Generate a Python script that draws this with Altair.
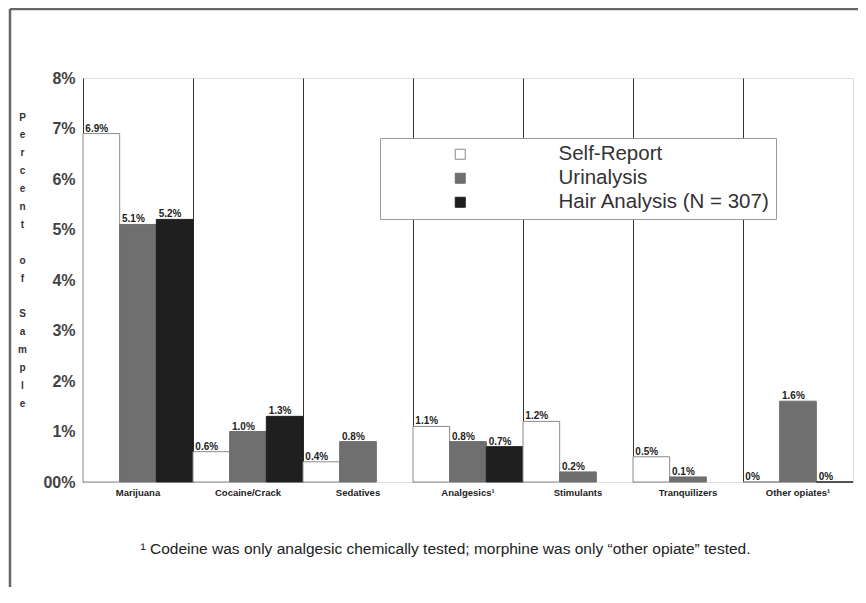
import altair as alt
import pandas as pd

categories = ["Marijuana", "Cocaine/Crack", "Sedatives", "Analgesics¹",
              "Stimulants", "Tranquilizers", "Other opiates¹"]
series = ["Self-Report", "Urinalysis", "Hair Analysis (N = 307)"]
self_report = [6.9, 0.6, 0.4, 1.1, 1.2, 0.5, 0.0]
urinalysis = [5.1, 1.0, 0.8, 0.8, 0.2, 0.1, 1.6]
hair = [5.2, 1.3, None, 0.7, None, None, 0.0]
y_ticks = [0, 1, 2, 3, 4, 5, 6, 7, 8]
y_title = list("Percent") + ["\u2800"] + list("of") + ["\u2800"] + list("Sample")
footnote = "¹ Codeine was only analgesic chemically tested; morphine was only “other opiate” tested."

rows = []
for i, c in enumerate(categories):
    for s, vals in zip(series, [self_report, urinalysis, hair]):
        rows.append({"category": c, "series": s, "value": vals[i]})
df = pd.DataFrame(rows)

fills = ["#ffffff", "#6f6f6f", "#1f1f1f"]
strokes = ["#8a8a8a", "#6f6f6f", "#1f1f1f"]

FONT = "Liberation Sans"

x_enc = alt.X("category:N", sort=categories,
              scale=alt.Scale(paddingInner=0, paddingOuter=0),
              axis=alt.Axis(title=footnote, labelAngle=0, ticks=False, domain=False,
                            grid=True, bandPosition=0, gridColor="#333333", gridWidth=1,
                            labelFont=FONT, labelFontSize=9.5, labelFontWeight="bold",
                            labelColor="#222222", labelPadding=5,
                            titleFont=FONT, titleFontSize=15.5, titleFontWeight="normal",
                            titleColor="#222222", titleX=362, titleY=66,
                            titleAlign="center", titleBaseline="middle"))

y_enc = alt.Y("value:Q", scale=alt.Scale(domain=[0, 8], nice=False),
              axis=alt.Axis(values=y_ticks, title=y_title, titleAngle=0,
                            titleX=-61, titleY=34, titleAlign="center",
                            titleBaseline="top", titleLineHeight=17.9,
                            titleFont=FONT, titleFontSize=10, titleFontWeight="bold",
                            titleColor="#333333",
                            labelExpr="datum.value == 0 ? '00%' : datum.value + '%'",
                            ticks=False, domain=False, grid=False,
                            labelFont=FONT, labelFontSize=16, labelFontWeight="bold",
                            labelColor="#444444", labelPadding=8))

base = alt.Chart(df)

bars = base.mark_bar(strokeWidth=1).encode(
    x=x_enc,
    xOffset=alt.XOffset("series:N", sort=series),
    y=y_enc,
    fill=alt.Fill("series:N", sort=series,
                  scale=alt.Scale(domain=series, range=fills),
                  legend=alt.Legend(title=None, orient="none", legendX=297, legendY=60,
                                    symbolType="square", symbolSize=100,
                                    symbolStrokeWidth=1, symbolOffset=64,
                                    labelOffset=88, labelLimit=400, labelFont=FONT,
                                    labelFontSize=20.5, labelColor="#333333",
                                    rowPadding=3, padding=6,
                                    strokeColor="#9a9a9a", fillColor="#ffffff")),
    stroke=alt.Stroke("series:N", sort=series,
                      scale=alt.Scale(domain=series, range=strokes), legend=None),
)

labels = base.transform_filter("isValid(datum.value)").transform_calculate(
    lab="datum.value == 0 ? '0%' : format(datum.value, '.1f') + '%'"
).mark_text(align="left", baseline="bottom", dx=-16, dy=0, font=FONT,
            fontSize=10, fontWeight="bold", color="#222222").encode(
    x=alt.X("category:N", sort=categories),
    xOffset=alt.XOffset("series:N", sort=series),
    y="value:Q",
    text="lab:N",
)

frame_df = pd.DataFrame({"k": [0]})
left_line = alt.Chart(frame_df).mark_rule(color="#666666", strokeWidth=2.5).encode(
    x=alt.value(-73), y=alt.value(-69), y2=alt.value(520))
top_line = alt.Chart(frame_df).mark_rule(color="#666666", strokeWidth=2.5).encode(
    x=alt.value(-73), x2=alt.value(775), y=alt.value(-69))

chart = alt.layer(bars, labels, left_line, top_line).properties(
    width=770, height=404,
    autosize=alt.AutoSizeParams(type="none"),
    padding={"left": 75, "top": 70, "right": 5, "bottom": 105},
).configure_view(stroke="#8a8a8a", strokeWidth=1.5).configure(background="white")

chart.save("out.html", embed_options={"renderer": "svg", "actions": False})
